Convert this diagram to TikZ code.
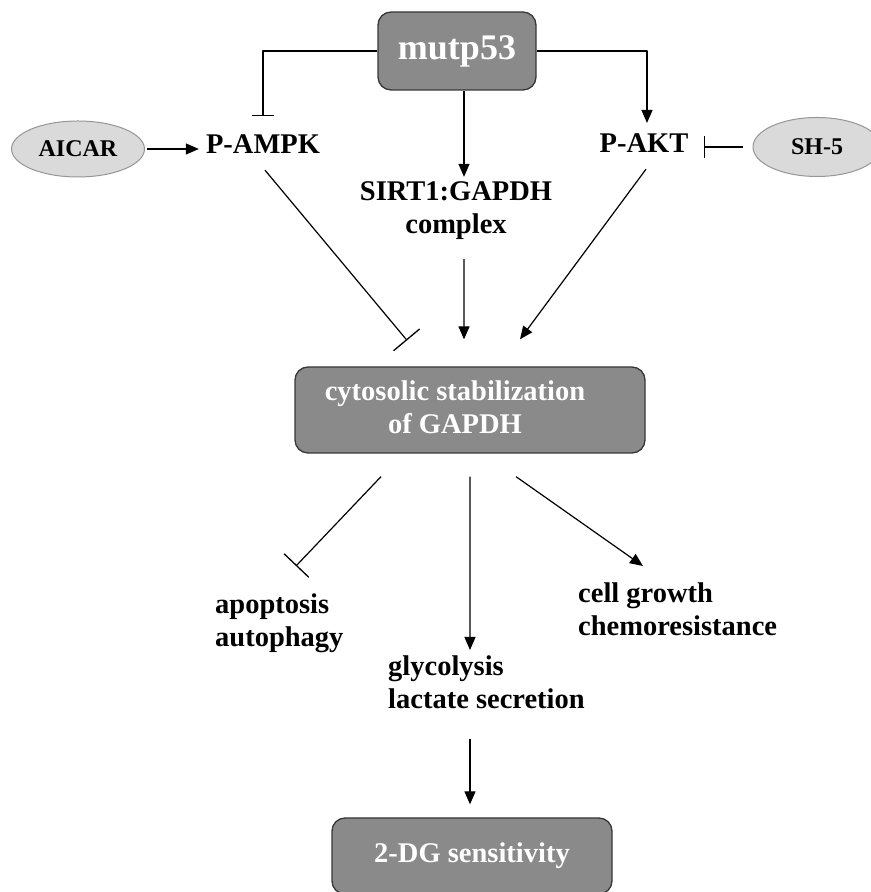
\documentclass[tikz,border=0pt]{standalone}
\usepackage{fontspec}
\setmainfont{Liberation Serif}
\usetikzlibrary{positioning,arrows.meta,shapes.geometric}
\definecolor{boxgray}{RGB}{138,138,138}
\definecolor{boxedge}{RGB}{55,55,55}
\definecolor{ovalgray}{RGB}{218,218,218}
\definecolor{ovaledge}{RGB}{150,150,150}
\begin{document}
\begin{tikzpicture}[>={Triangle[length=13bp,width=11bp]},line join=bevel,
  graybox/.style={draw=boxedge,line width=1.3bp,fill=boxgray,rounded corners=13bp,text=white,font=\bfseries\fontsize{28.5bp}{33bp}\selectfont,align=center},
  oval/.style={ellipse,draw=ovaledge,line width=1bp,fill=ovalgray,font=\bfseries\fontsize{24bp}{28bp}\selectfont,inner sep=0pt},
  plain/.style={inner sep=0pt,font=\bfseries\fontsize{28.5bp}{33bp}\selectfont},
  arr/.style={black,line width=1.2bp,->},
  blunt/.style={black,line width=1.2bp,-{Bar[width=22bp,line width=1.3bp]}},
  bluntlong/.style={black,line width=1.2bp,-{Bar[width=34bp,line width=1.3bp]}},
]
\useasboundingbox (0bp,0bp) rectangle (871bp,892bp);
%%
\node (mutp53) at (457bp,841bp) [graybox,minimum width=158bp,minimum height=78bp,font=\bfseries\fontsize{36bp}{40bp}\selectfont] {mutp53};
  \node (aicar) at (78bp,743bp) [oval,minimum width=133bp,minimum height=56bp] {AICAR};
  \node (pampk) at (263bp,738bp) [plain,anchor=base] {P-AMPK};
  \node (pakt) at (644bp,739bp) [plain,anchor=base] {P-AKT};
  \node (sh5) at (817bp,745bp) [oval,minimum width=128bp,minimum height=59bp] {SH-5};
  \node (sirt) at (456bp,681bp) [plain,align=center] {SIRT1:GAPDH\\complex};
  \node (cyto) at (470bp,482bp) [graybox,minimum width=350bp,minimum height=86bp,
    label={[xshift=-15bp,yshift=3bp,text=white,align=center,plain]center:cytosolic stabilization\\of GAPDH}] {};
  \node (apop) at (215bp,298bp) [plain,anchor=north west,align=left] {apoptosis\\autophagy};
  \node (glyco) at (388bp,236bp) [plain,anchor=north west,align=left] {glycolysis\\lactate secretion};
  \node (cell) at (578bp,309bp) [plain,anchor=north west,align=left] {cell growth\\chemoresistance};
  \node (dg) at (472bp,36bp) [graybox,minimum width=280bp,minimum height=76bp] {2-DG sensitivity};
  \draw [blunt] (mutp53.west) -| ([yshift=19bp]pampk.north);
  \draw [arr] (mutp53.east) -| ([xshift=3bp,yshift=11bp]pakt.north);
  \draw [arr] ([xshift=7bp]mutp53.south) -- ([xshift=8bp,yshift=5bp]sirt.north);
  \draw [arr] ([xshift=2bp]aicar.east) -- ([xshift=-7bp]aicar.east -| pampk.west);
  \draw [blunt] ([xshift=-10bp]sh5.west) -- ([xshift=15bp]sh5.west -| pakt.east);
  \draw [bluntlong] ([xshift=2bp,yshift=-16bp]pampk.south) -- ([xshift=-63bp,yshift=26bp]cyto.north);
  \draw [arr] ([xshift=8bp,yshift=-19bp]sirt.south) -- ([xshift=-6bp,yshift=27bp]cyto.north);
  \draw [arr] ([xshift=2bp,yshift=-16bp]pakt.south) -- ([xshift=50bp,yshift=27bp]cyto.north);
  \draw [bluntlong] ([xshift=-89bp,yshift=-23bp]cyto.south) -- ([xshift=81bp,yshift=28bp]apop.north west);
  \draw [arr] ([yshift=-23bp]cyto.south) -- ([xshift=82bp,yshift=6bp]glyco.north west);
  \draw [arr] ([xshift=46bp,yshift=-23bp]cyto.south) -- ([xshift=65bp,yshift=17bp]cell.north west);
  \draw [arr] ([yshift=-30bp]glyco.south -| cyto.south) -- ([yshift=13bp]dg.north -| cyto.south);
%
\end{tikzpicture}
\end{document}
